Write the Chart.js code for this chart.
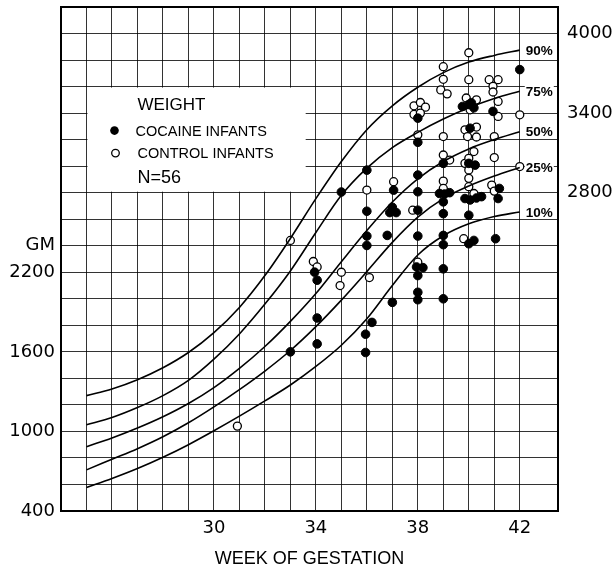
<!DOCTYPE html>
<html>
<head>
<meta charset="utf-8">
<script src="https://cdn.jsdelivr.net/npm/chart.js@4.4.1/dist/chart.umd.min.js"></script>
<style>
  body { margin: 0; background: #fff; }
  canvas { display: block; }
</style>
</head>
<body>
<canvas id="weightChart" width="613" height="570"></canvas>
<script>
// percentile curves (grams per week of gestation)
const curveWeeks = [25, 26, 27, 28, 29, 30, 31, 32, 33, 34, 35, 36, 37, 38, 39, 40, 41, 42];
const p90 = [1270, 1320, 1390, 1480, 1595, 1745, 1935, 2175, 2455, 2755, 3035, 3275, 3455, 3595, 3705, 3785, 3835, 3875];
const p75 = [1050, 1105, 1180, 1270, 1385, 1545, 1735, 1960, 2210, 2500, 2780, 2985, 3140, 3255, 3355, 3440, 3510, 3565];
const p50 = [885, 950, 1025, 1110, 1210, 1330, 1475, 1640, 1830, 2040, 2280, 2515, 2730, 2905, 3035, 3130, 3200, 3260];
const p25 = [710, 790, 870, 960, 1065, 1185, 1315, 1455, 1610, 1790, 1990, 2205, 2425, 2615, 2755, 2850, 2925, 2990];
const p10 = [577, 645, 720, 805, 900, 1005, 1115, 1230, 1350, 1490, 1650, 1850, 2100, 2330, 2475, 2565, 2620, 2655];
const curveLabels = ['90%', '75%', '50%', '25%', '10%'];

// [week, grams]
const cocaineInfants = [
    [33, 1600],
    [33.95, 2201], [34.05, 2140], [34.05, 1855], [34.05, 1660],
    [35, 2805],
    [36, 2970], [36, 2660], [36, 2473], [36, 2402], [36.2, 1822], [35.95, 1733], [35.95, 1595],
    [37.05, 2819], [36.9, 2650], [37.15, 2650], [37, 2690], [36.8, 2478], [37, 1973],
    [38, 3362], [38, 3180], [38, 2933], [38, 2807], [38, 2668], [38, 2473],
    [37.95, 2240], [38.2, 2235], [38, 2175], [38, 2049], [38, 1993],
    [39, 3021], [38.85, 2794], [39.05, 2790], [39.25, 2800], [39, 2731], [39, 2642],
    [39, 2478], [39, 2408], [39, 2226], [39, 2000],
    [39.75, 3450], [40, 3465], [40.2, 3440], [40.1, 3478], [40.05, 3286], [40, 3021], [40.25, 3008],
    [39.85, 2756], [40.05, 2745], [40.3, 2760], [40.5, 2770], [40, 2630], [40, 2415], [40.2, 2440],
    [40.95, 3413], [41.2, 2832], [41.15, 2756], [41.05, 2453],
    [42, 3728]
];
const controlInfants = [
    [30.92, 1040],
    [33, 2440],
    [33.9, 2281], [34.05, 2240],
    [35, 2200], [34.95, 2100],
    [36, 2820], [36.1, 2160],
    [37.05, 2883], [37.8, 2668],
    [37.85, 3455], [38.1, 3480], [38.3, 3445], [37.85, 3390], [38.1, 3400], [38, 3236], [38, 2276],
    [39, 3750], [39, 3655], [38.9, 3575], [39.15, 3545], [39, 3223], [39, 3084], [39.25, 3046],
    [39, 2887], [39, 2832],
    [40, 3855], [40, 3652], [39.9, 3514], [40.3, 3500], [40.05, 3425], [39.85, 3274], [40.3, 3295],
    [39.95, 3223], [40.3, 3220], [40.2, 3110], [39.85, 3021], [40, 3059], [40, 2971], [40, 2908],
    [40, 2845], [40.2, 2794], [39.8, 2453],
    [40.8, 3652], [41.15, 3652], [40.95, 3602], [40.95, 3559], [41.15, 3488], [41.15, 3375],
    [41, 3223], [41, 3065], [40.9, 2857], [41, 2812],
    [42, 3387], [42, 2997]
];

const xTickLabels = [30, 34, 38, 42];
const leftTickLabels = [400, 1000, 1600, 2200];
const unitTick = 2400; // "GM" sits on this line
const rightTickLabels = [2800, 3400, 4000];

const numFont = { family: 'DejaVu Sans', size: 18 };
const gridColor = 'rgba(0,0,0,0.8)';

const toXY = (xs, ys) => xs.map((x, i) => ({ x: x, y: ys[i] }));
const fromPairs = arr => arr.map(p => ({ x: p[0], y: p[1] }));

const curveSet = (values) => ({
    type: 'line',
    data: toXY(curveWeeks, values),
    borderColor: '#000',
    borderWidth: 1.6,
    pointRadius: 0,
    fill: false,
    cubicInterpolationMode: 'monotone'
});

// keep the plot box where the printed one is
const fixY = (width) => (scale) => {
    scale.width = width;
    scale.paddingTop = 0;
    scale.paddingBottom = 0;
};

// white legend panel, legend text and percentile labels
const overlay = {
    id: 'overlay',
    beforeDatasetsDraw(chart) {
        const { ctx, scales: { x, y } } = chart;
        const left = x.getPixelForValue(25) + 1;
        const right = x.getPixelForValue(33.6);
        const top = y.getPixelForValue(3600) + 1;
        const bottom = y.getPixelForValue(2800) - 1;
        ctx.save();
        ctx.fillStyle = '#fff';
        ctx.fillRect(left, top, right - left, bottom - top);

        ctx.fillStyle = '#000';
        ctx.textBaseline = 'alphabetic';
        ctx.font = '17px "Liberation Sans", Arial, sans-serif';
        ctx.fillText('WEIGHT', left + 50, top + 22);
        ctx.font = '14.5px "Liberation Sans", Arial, sans-serif';
        ctx.fillText('COCAINE INFANTS', left + 48, top + 48);
        ctx.fillText('CONTROL INFANTS', left + 50, top + 70);
        ctx.font = '18px "Liberation Sans", Arial, sans-serif';
        ctx.fillText('N=56', left + 50, top + 95);

        ctx.beginPath();
        ctx.arc(left + 27, top + 43, 4.3, 0, Math.PI * 2);
        ctx.fill();
        ctx.beginPath();
        ctx.arc(left + 28, top + 65.5, 3.8, 0, Math.PI * 2);
        ctx.fillStyle = '#fff';
        ctx.fill();
        ctx.lineWidth = 1.3;
        ctx.strokeStyle = '#000';
        ctx.stroke();
        ctx.restore();
    },
    afterDatasetsDraw(chart) {
        const { ctx } = chart;
        ctx.save();
        ctx.font = 'bold 13.5px "Liberation Sans", Arial, sans-serif';
        ctx.textBaseline = 'middle';
        curveLabels.forEach((label, i) => {
            const pts = chart.getDatasetMeta(i).data;
            const end = pts[pts.length - 1];
            const w = ctx.measureText(label).width;
            ctx.fillStyle = '#fff';
            ctx.fillRect(end.x + 5, end.y - 7, w + 2, 14);
            ctx.fillStyle = '#000';
            ctx.fillText(label, end.x + 6, end.y + 1);
        });
        ctx.restore();
    }
};

new Chart(document.getElementById('weightChart'), {
    type: 'scatter',
    data: {
        datasets: [
            curveSet(p90),
            curveSet(p75),
            curveSet(p50),
            curveSet(p25),
            curveSet(p10),
            {
                label: 'COCAINE INFANTS',
                data: fromPairs(cocaineInfants),
                pointRadius: 4.3,
                pointBackgroundColor: '#000',
                pointBorderColor: '#000',
                pointBorderWidth: 1
            },
            {
                label: 'CONTROL INFANTS',
                data: fromPairs(controlInfants),
                pointRadius: 4,
                pointBackgroundColor: '#fff',
                pointBorderColor: '#000',
                pointBorderWidth: 1.3
            }
        ]
    },
    options: {
        responsive: false,
        animation: false,
        devicePixelRatio: 1,
        layout: { padding: { top: 7 } },
        plugins: {
            legend: { display: false },
            tooltip: { enabled: false }
        },
        scales: {
            x: {
                type: 'linear',
                min: 24,
                max: 43.5,
                ticks: {
                    stepSize: 1,
                    autoSkip: false,
                    maxRotation: 0,
                    padding: 7,
                    color: '#000',
                    font: numFont,
                    callback: v => xTickLabels.includes(v) ? String(v) : ''
                },
                grid: { color: gridColor, lineWidth: 1, drawTicks: false },
                border: { color: '#000', width: 2 },
                title: {
                    display: true,
                    text: 'WEEK OF GESTATION',
                    color: '#000',
                    font: { family: 'Liberation Sans', size: 18 },
                    padding: { top: 0, bottom: 0 }
                },
                afterFit(scale) { scale.height = 59; }
            },
            y: {
                position: 'left',
                min: 400,
                max: 4200,
                ticks: {
                    stepSize: 200,
                    autoSkip: false,
                    padding: 6,
                    color: '#000',
                    font: numFont,
                    callback: v => leftTickLabels.includes(v) ? String(v) : (v === unitTick ? 'GM' : '')
                },
                grid: {
                    drawTicks: false,
                    color: c => (c.tick && c.tick.value === 4200) ? '#000' : gridColor,
                    lineWidth: c => (c.tick && c.tick.value === 4200) ? 2 : 1
                },
                border: { color: '#000', width: 2 },
                afterFit: fixY(61)
            },
            y2: {
                position: 'right',
                min: 400,
                max: 4200,
                ticks: {
                    stepSize: 200,
                    autoSkip: false,
                    padding: 9,
                    color: '#000',
                    font: numFont,
                    callback: v => rightTickLabels.includes(v) ? String(v) : ''
                },
                grid: { display: false, drawTicks: false },
                border: { color: '#000', width: 2 },
                afterFit: fixY(55)
            }
        }
    },
    plugins: [overlay]
});
</script>
</body>
</html>
